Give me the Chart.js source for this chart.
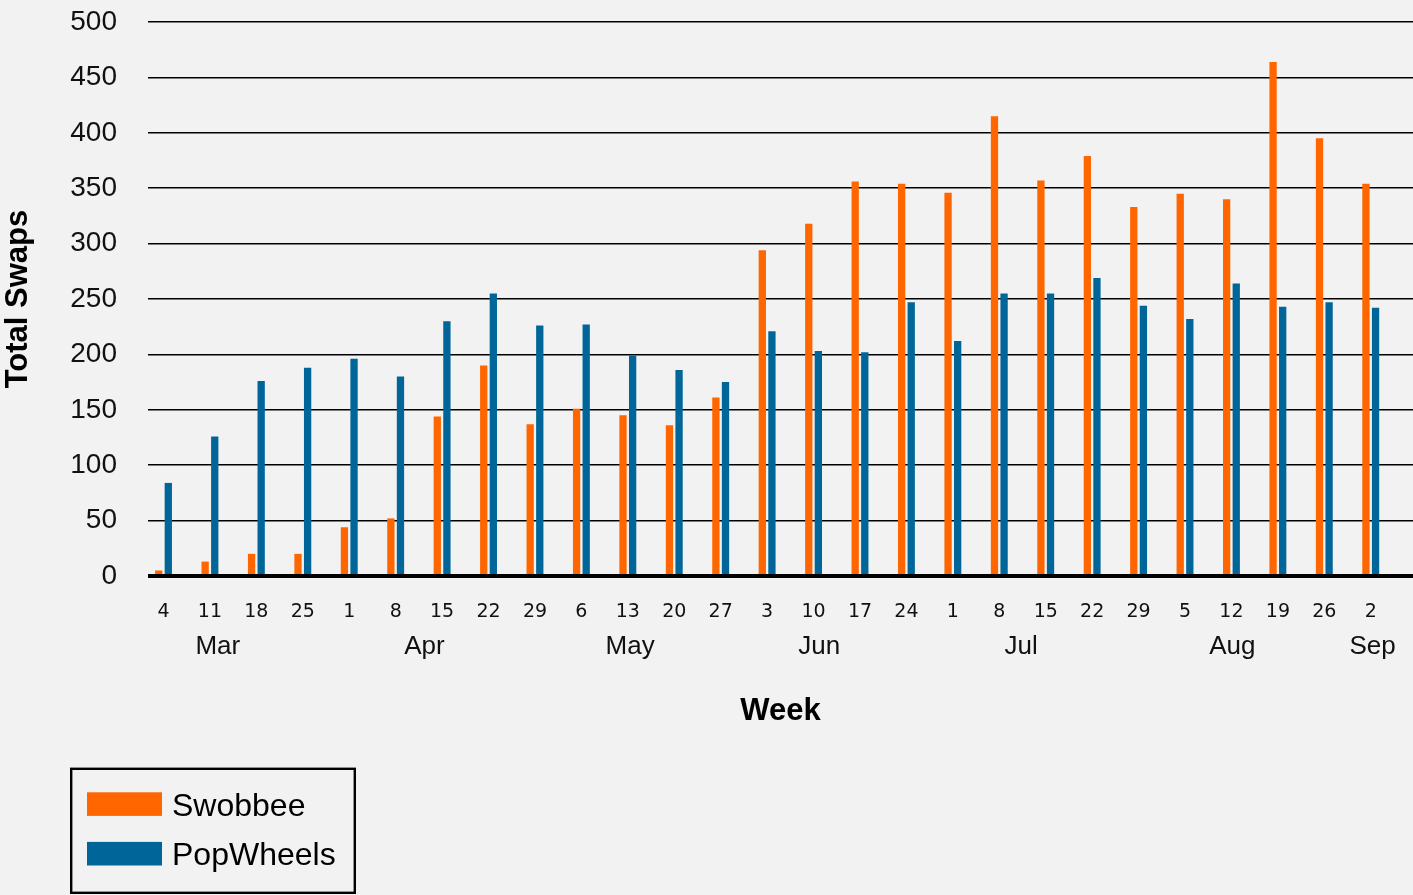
<!DOCTYPE html>
<html>
<head>
<meta charset="utf-8">
<title>Total Swaps by Week</title>
<script src="https://cdn.jsdelivr.net/npm/chart.js@4.4.1/dist/chart.umd.min.js"></script>
<style>
  html, body { margin: 0; padding: 0; background: #f2f2f2; }
  #wrap { width: 1413px; height: 895px; }
  canvas { display: block; }
</style>
</head>
<body>
<div id="wrap"><canvas id="chart" width="1413" height="895"></canvas></div>
<script>
// Week-start day labels (March through early September)
const weekLabels = ['4', '11', '18', '25', '1', '8', '15', '22', '29', '6', '13', '20', '27',
  '3', '10', '17', '24', '1', '8', '15', '22', '29', '5', '12', '19', '26', '2'];
const monthLabels = ['Mar', 'Apr', 'May', 'Jun', 'Jul', 'Aug', 'Sep'];
const seriesNames = ['Swobbee', 'PopWheels'];
const swobbee = [5, 13, 20, 20, 44, 52, 144, 190, 137, 151, 145, 136, 161,
  294, 318, 356, 354, 346, 415, 357, 379, 333, 345, 340, 464, 395, 354];
const popWheels = [84, 126, 176, 188, 196, 180, 230, 255, 226, 227, 199, 186, 175,
  221, 203, 202, 247, 212, 255, 255, 269, 244, 232, 264, 243, 247, 242];
const yTicks = [0, 50, 100, 150, 200, 250, 300, 350, 400, 450, 500];

const ORANGE = '#ff6600';
const BLUE = '#006699';
const SANS = '"Liberation Sans", Arial, sans-serif';

const toPoints = arr => arr.map((v, i) => ({ x: i, y: v }));

// Boxed legend drawn under the axis titles
const boxedLegend = {
  id: 'boxedLegend',
  afterDraw(chart) {
    const ctx = chart.ctx;
    ctx.save();
    ctx.lineWidth = 2.4;
    ctx.strokeStyle = '#000';
    ctx.strokeRect(71.2, 768.8, 283.6, 124);
    ctx.font = '32px ' + SANS;
    ctx.textBaseline = 'alphabetic';
    ctx.textAlign = 'left';
    chart.data.datasets.forEach((ds, i) => {
      const top = 792.3 + i * 49.6;
      ctx.fillStyle = ds.backgroundColor;
      ctx.fillRect(87, top, 75, 23.6);
      ctx.fillStyle = '#000';
      ctx.fillText(ds.label, 172, top + 23.4);
    });
    ctx.restore();
  }
};

// Week index range of the plot area (left edge, right edge)
const X_MIN = -0.334;
const X_MAX = 26.91;

new Chart(document.getElementById('chart'), {
  type: 'bar',
  data: {
    datasets: [
      { label: seriesNames[0], data: toPoints(swobbee), backgroundColor: ORANGE },
      { label: seriesNames[1], data: toPoints(popWheels), backgroundColor: BLUE }
    ]
  },
  options: {
    responsive: false,
    animation: false,
    categoryPercentage: 0.4135,
    barPercentage: 0.76,
    layout: { padding: { top: 22, right: 0, left: 0, bottom: 164.8 } },
    plugins: {
      legend: { display: false },
      tooltip: { enabled: false }
    },
    scales: {
      x: {
        type: 'linear',
        position: 'bottom',
        weight: 0,
        offset: false,
        min: X_MIN,
        max: X_MAX,
        afterBuildTicks: scale => { scale.ticks = weekLabels.map((_, i) => ({ value: i })); },
        afterFit: scale => { scale.height = 47.1; },
        grid: { display: false, drawTicks: false, offset: false },
        border: { display: false },
        ticks: {
          autoSkip: false,
          maxRotation: 0,
          padding: 24.3,
          color: '#111',
          font: { family: '"DejaVu Sans", sans-serif', size: 19 },
          callback: (value) => weekLabels[value]
        }
      },
      xm: {
        type: 'linear',
        position: 'bottom',
        weight: 1,
        offset: false,
        min: X_MIN,
        max: X_MAX,
        afterBuildTicks: scale => {
          const centers = [1.17, 5.62, 10.05, 14.12, 18.47, 23.02, 26.04];
          scale.ticks = centers.map(v => ({ value: v }));
        },
        afterFit: scale => { scale.height = 107.1; },
        grid: { display: false, drawTicks: false, offset: false },
        border: { display: false },
        ticks: {
          autoSkip: false,
          maxRotation: 0,
          padding: 8,
          color: '#111',
          font: { family: SANS, size: 26 },
          callback: (value, index) => monthLabels[index]
        },
        title: {
          display: true,
          text: 'Week',
          color: '#000',
          font: { family: SANS, size: 31, weight: 'bold' },
          padding: { top: 30.7, bottom: 0 }
        }
      },
      y: {
        min: 0,
        max: 500,
        afterBuildTicks: scale => { scale.ticks = yTicks.map(v => ({ value: v })); },
        afterFit: scale => { scale.width = 148; },
        grid: {
          drawTicks: true,
          tickLength: 26,
          tickColor: 'rgba(0,0,0,0)',
          color: '#000',
          lineWidth: ctx => (ctx.tick && ctx.tick.value === 0 ? 4 : 1.6)
        },
        border: { display: false },
        ticks: {
          padding: 5,
          color: '#111',
          font: { family: SANS, size: 28 }
        },
        title: {
          display: true,
          text: 'Total Swaps',
          color: '#000',
          font: { family: SANS, size: 31, weight: 'bold' },
          padding: { top: 0, bottom: 0 }
        }
      }
    }
  },
  plugins: [boxedLegend]
});
</script>
</body>
</html>
